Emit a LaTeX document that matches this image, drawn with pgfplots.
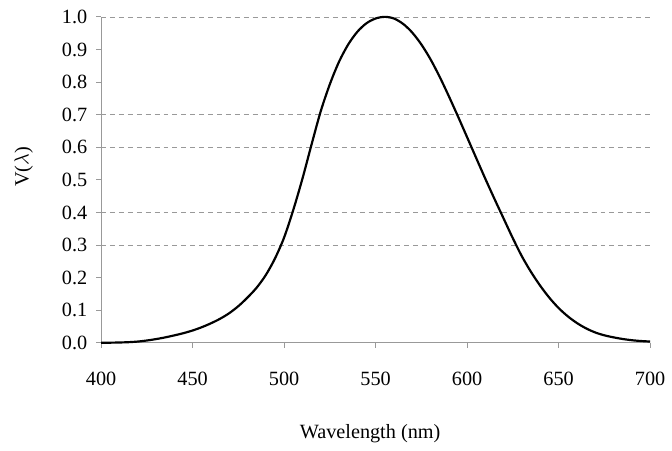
\documentclass[border=0pt]{standalone}
\usepackage{fontspec}
\setmainfont{Liberation Serif}
\usepackage{pgfplots}
\pgfplotsset{compat=1.18}

\pgfplotstableread{
lam V
400 0.0004
405 0.00064
410 0.0012
415 0.00218
420 0.0040
425 0.0073
430 0.0116
435 0.01684
440 0.0230
445 0.0298
450 0.0380
455 0.0480
460 0.0600
465 0.0739
470 0.09098
475 0.1126
480 0.13902
485 0.1693
490 0.20802
495 0.2586
500 0.3230
505 0.4073
510 0.5030
515 0.6082
520 0.7100
525 0.7932
530 0.8620
535 0.91485
540 0.9540
545 0.9803
550 0.99495
555 1.0000
560 0.9950
565 0.9786
570 0.9520
575 0.9154
580 0.8700
585 0.8163
590 0.7570
595 0.6949
600 0.6310
605 0.5668
610 0.5030
615 0.4412
620 0.3810
625 0.3210
630 0.2650
635 0.2170
640 0.1750
645 0.1382
650 0.1070
655 0.0816
660 0.0610
665 0.04458
670 0.0320
675 0.0232
680 0.0170
685 0.01192
690 0.00821
695 0.005723
700 0.004102
}\vlambda

\begin{document}
\fontsize{20.5}{24}\selectfont
\begin{tikzpicture}
\begin{axis}[
  name=ax,
  scale only axis,
  width=554bp, height=329bp,
  xmin=400, xmax=700, ymin=0, ymax=1,
  axis lines=left,
  grid=none,
  axis line style={-, draw=gray!80, line width=0.8pt},
  xtick={400,450,...,700},
  ytick={0,0.1,...,1.0},
  y tick label style={/pgf/number format/fixed, /pgf/number format/fixed zerofill, /pgf/number format/precision=1, xshift=-2bp},
  /pgf/number format/assume math mode=true,
  every tick/.style={draw=gray!80, line width=0.8pt},
  tick align=outside,
  major tick length=5bp,
  x tick label style={yshift=-17bp},
  xlabel={Wavelength (nm)},
  xlabel style={at={(rel axis cs:0.49,0)}, anchor=center, yshift=-92bp},
  ylabel={V(\(\lambda\))},
  ylabel style={at={(rel axis cs:0,0.54)}, anchor=center, yshift=78bp},
  clip=false,
]
% dashed lines only at 0.3, 0.4, 0.6, 0.7 and 1.0
\addplot[gray!80, line width=0.7pt, dash pattern=on 5bp off 4bp, forget plot] coordinates {(400,0.3) (700,0.3)};
\addplot[gray!80, line width=0.7pt, dash pattern=on 5bp off 4bp, forget plot] coordinates {(400,0.4) (700,0.4)};
\addplot[gray!80, line width=0.7pt, dash pattern=on 5bp off 4bp, forget plot] coordinates {(400,0.6) (700,0.6)};
\addplot[gray!80, line width=0.7pt, dash pattern=on 5bp off 4bp, forget plot] coordinates {(400,0.7) (700,0.7)};
\addplot[gray!80, line width=0.7pt, dash pattern=on 5bp off 4bp, forget plot] coordinates {(400,1.0) (700,1.0)};
\addplot[black, line width=2.2bp, smooth] table[x=lam, y=V] {\vlambda};
\end{axis}
\useasboundingbox (ax.south west) ++(-102bp,-96bp) rectangle ++(672bp,442bp);
\end{tikzpicture}
\end{document}
